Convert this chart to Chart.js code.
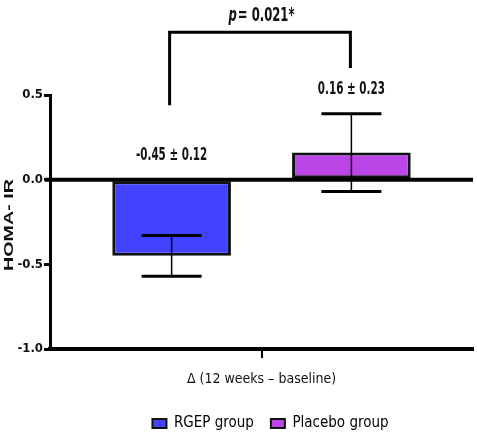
<!DOCTYPE html>
<html>
<head>
<meta charset="utf-8">
<script src="https://cdn.jsdelivr.net/npm/chart.js@4"></script>
<style>
  html, body { margin: 0; padding: 0; background: #fff; }
  #wrap { width: 477px; height: 433px; }
</style>
</head>
<body>
<div id="wrap"><canvas id="chart" width="477" height="433"></canvas></div>
<script>
// values
const categories = ['\u0394 (12 weeks \u2013 baseline)'];
const groups = ['RGEP group', 'Placebo group'];
const means = [-0.45, 0.16];
const sds = [0.12, 0.23];
const colors = ['#4343FF', '#BB45E6'];
const yTicks = [-1.0, -0.5, 0.0, 0.5];
const yTitle = 'HOMA- IR';
const pText = '= 0.021*';

// bracket above the bars (in y units)
const bracketTop = 0.87;
const bracketLegEnds = [0.44, 0.66];

const NARROW = '"DejaVu Sans Condensed", "Liberation Sans", sans-serif';

// the source figure has tall, narrow lettering: draw text squeezed sideways
function squeezed(ctx, text, x, y, font, sx, align) {
  ctx.save();
  ctx.font = font;
  ctx.textAlign = align || 'center';
  ctx.textBaseline = 'middle';
  ctx.translate(x, y);
  ctx.scale(sx, 1);
  ctx.fillText(text, 0, 0);
  ctx.restore();
}

const extras = {
  id: 'extras',
  afterLayout(chart) {
    // legend sits a bit right of the canvas centre in the source
    chart.legend.left += 34;
    chart.legend.right += 34;
  },
  afterDatasetsDraw(chart) {
    const { ctx, scales: { y }, chartArea } = chart;
    ctx.save();

    // zero line
    ctx.strokeStyle = '#000';
    ctx.lineWidth = 4;
    ctx.beginPath();
    ctx.moveTo(chartArea.left - 5, y.getPixelForValue(0));
    ctx.lineTo(chartArea.right, y.getPixelForValue(0));
    ctx.stroke();

    ctx.fillStyle = '#111';
    const xs = [];
    means.forEach((m, i) => {
      const bar = chart.getDatasetMeta(i).data[0];
      const x = bar.x;
      xs.push(x);
      const hi = y.getPixelForValue(m + sds[i]);
      const lo = y.getPixelForValue(m - sds[i]);
      // whisker
      ctx.lineWidth = 1.5;
      ctx.beginPath();
      ctx.moveTo(x, hi);
      ctx.lineTo(x, lo);
      ctx.stroke();
      // caps
      ctx.lineWidth = 3;
      ctx.beginPath();
      ctx.moveTo(x - 30, hi); ctx.lineTo(x + 30, hi);
      ctx.moveTo(x - 30, lo); ctx.lineTo(x + 30, lo);
      ctx.stroke();
      // mean ± sd label
      const top = Math.min(hi, y.getPixelForValue(0));
      squeezed(ctx, m.toFixed(2) + ' \u00b1 ' + sds[i].toFixed(2), x, top - 24,
        'bold 18px ' + NARROW, 0.64);
    });

    // significance bracket
    const by = y.getPixelForValue(bracketTop);
    ctx.lineWidth = 3;
    ctx.strokeStyle = '#000';
    ctx.beginPath();
    ctx.moveTo(xs[0] - 2, y.getPixelForValue(bracketLegEnds[0]));
    ctx.lineTo(xs[0] - 2, by);
    ctx.lineTo(xs[1] - 1, by);
    ctx.lineTo(xs[1] - 1, y.getPixelForValue(bracketLegEnds[1]));
    ctx.stroke();

    // p-value text, italic p
    const sx = 0.68;
    ctx.font = 'italic bold 19px ' + NARROW;
    const pw = ctx.measureText('p').width * sx;
    ctx.font = 'bold 19px ' + NARROW;
    const tw = ctx.measureText(pText).width * sx;
    const cx = (xs[0] + xs[1]) / 2;
    const startX = cx - (pw + tw + 1) / 2;
    squeezed(ctx, 'p', startX, 16, 'italic bold 19px ' + NARROW, sx, 'left');
    squeezed(ctx, pText, startX + pw + 1, 16, 'bold 19px ' + NARROW, sx, 'left');

    // y axis title, rotated and stretched along its length
    ctx.save();
    ctx.font = 'bold 12px "Liberation Sans", Arial, sans-serif';
    const len = ctx.measureText(yTitle).width;
    ctx.translate(10, (chartArea.top + chartArea.bottom) / 2 + 3);
    ctx.rotate(-Math.PI / 2);
    ctx.scale(92 / len, 1);
    ctx.textAlign = 'center';
    ctx.textBaseline = 'middle';
    ctx.fillText(yTitle, 0, 0);
    ctx.restore();

    ctx.restore();
  }
};

new Chart(document.getElementById('chart'), {
  type: 'bar',
  data: {
    labels: categories,
    datasets: groups.map((g, i) => ({
      label: g,
      data: [means[i]],
      backgroundColor: colors[i],
      borderColor: '#111',
      borderWidth: 3,
      borderSkipped: false,
      categoryPercentage: 0.85,
      barPercentage: 0.66
    }))
  },
  options: {
    responsive: false,
    animation: false,
    layout: { padding: { top: 95, right: 4, left: 0, bottom: -8 } },
    plugins: {
      legend: {
        position: 'bottom',
        labels: {
          boxWidth: 14,
          boxHeight: 9,
          color: '#000',
          padding: 17,
          font: { family: NARROW, size: 15 },
          generateLabels(chart) {
            return chart.data.datasets.map((ds, i) => ({
              text: ds.label,
              fillStyle: ds.backgroundColor,
              strokeStyle: '#111',
              lineWidth: 2,
              datasetIndex: i
            }));
          }
        }
      },
      tooltip: { enabled: false }
    },
    scales: {
      x: {
        afterFit(scale) { scale.height = 50; },
        grid: {
          offset: false,
          drawOnChartArea: false,
          color: '#000',
          lineWidth: 2,
          tickLength: 9
        },
        border: { color: '#000', width: 4 },
        ticks: {
          color: '#111',
          padding: 13,
          font: { family: NARROW, size: 14 }
        }
      },
      y: {
        min: -1.0,
        max: 0.5,
        afterFit(scale) { scale.width = 50; },
        afterBuildTicks(scale) { scale.ticks = yTicks.map(v => ({ value: v })); },
        grid: {
          drawOnChartArea: false,
          color: '#000',
          lineWidth: 3,
          tickLength: 6
        },
        border: { color: '#000', width: 3 },
        ticks: {
          color: '#111',
          padding: 1,
          font: { family: NARROW, size: 13, weight: 'bold' },
          callback: v => v.toFixed(1)
        }
      }
    }
  },
  plugins: [extras]
});
</script>
</body>
</html>
